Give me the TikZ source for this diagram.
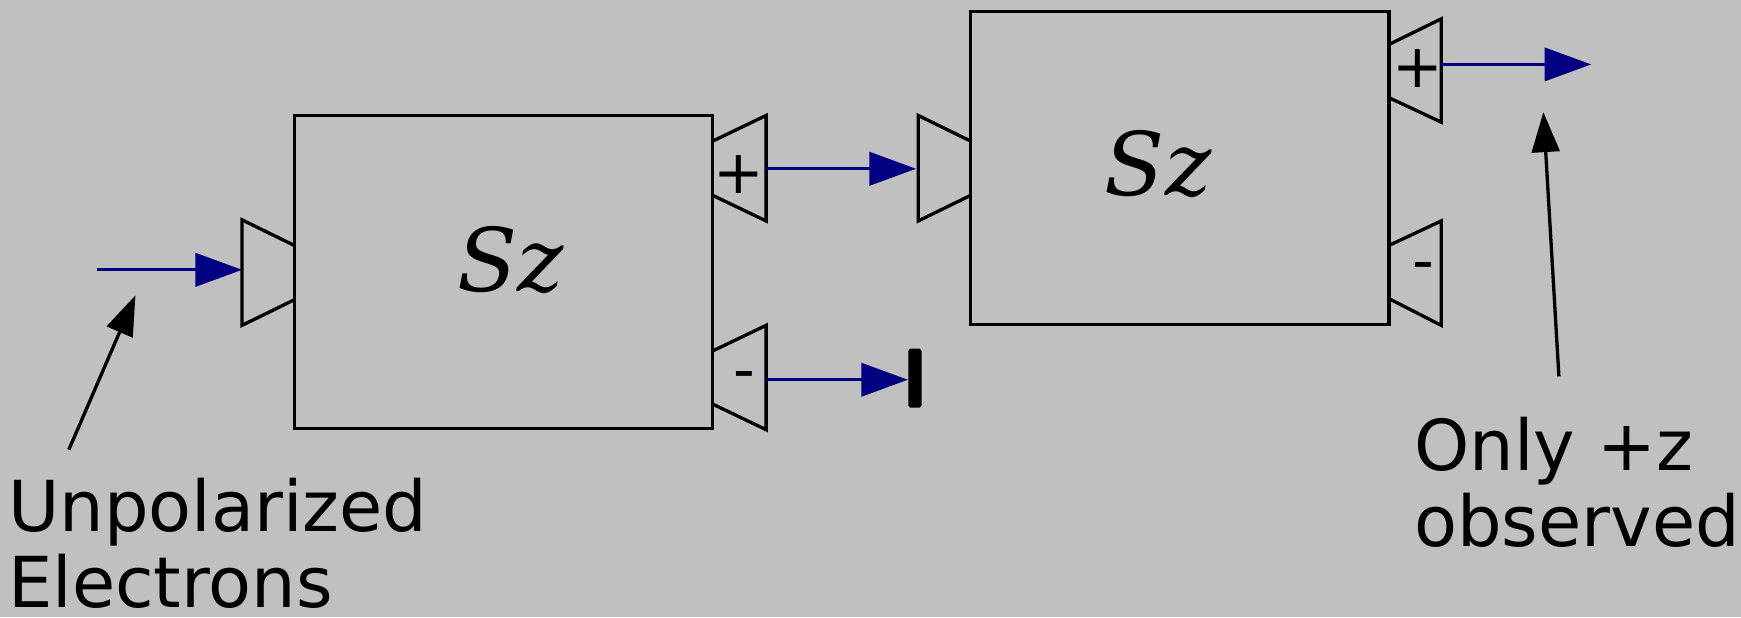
\documentclass[tikz,border=0pt]{standalone}
\usepackage{fontspec}
\setmainfont{DejaVu Sans}
\newfontfamily\serifit{DejaVu Serif}
\usetikzlibrary{arrows.meta, positioning}
\usepackage{xcolor}
\definecolor{silver}{RGB}{192,192,192}
\definecolor{navyblue}{RGB}{0,0,128}

\tikzset{
  magnet/.style={draw, line width=1.7pt, minimum width=7.54cm, minimum height=5.64cm, inner sep=0pt},
  port/.style={line width=1.7pt},
  beam/.style={navyblue, line width=1.6pt, -{Triangle[length=0.84cm, width=0.6cm]}},
  pointer/.style={black, line width=1.7pt, -{Triangle[length=0.72cm, width=0.5cm]}},
  sign/.style={font=\fontsize{31}{31}\selectfont, inner sep=0pt},
  opname/.style={font=\serifit\itshape\fontsize{45}{45}\selectfont, inner sep=0pt},
  note/.style={font=\fontsize{36}{39}\selectfont, align=left, inner sep=0pt, anchor=north west},
}

\begin{document}
\begin{tikzpicture}[x=0.02cm, y=-0.02cm]
  % background
  \fill[silver] (0,0) rectangle (1568,556);

  % Stern-Gerlach boxes
  \node[magnet] (sg1) at (453.5,245) {};
  \node[magnet] (sg2) at (1062.5,151.5) {};
  \node[opname] (sz1) at (460,234) {Sz};
  \node[opname] (sz2) at (1043,148) {Sz};

  % ports
  \draw[port] (265,221) -- (218,198) -- (218,293) -- (265,270);
  \draw[port] (642,127) -- (690,104) -- (690,199) -- (642,176);
  \draw[port] (642,316) -- (690,293) -- (690,387) -- (642,364);
  \draw[port] (874,127) -- (827,104) -- (827,199) -- (874,176);
  \draw[port] (1251,40) -- (1298,17) -- (1298,110) -- (1251,88);
  \draw[port] (1251,221) -- (1298,199) -- (1298,293) -- (1251,269);

  \node[sign] (plus1) at (665,157) {+};
  \node[sign] (minus1) at (670,343) {-};
  \node[sign] (plus2) at (1277,62) {+};
  \node[sign] (minus2) at (1282,245) {-};

  % beam points
  \coordinate (src) at (87,243);
  \coordinate (in1) at (218,243);
  \coordinate (up1) at (690,152);
  \coordinate (in2) at (825,152);
  \coordinate (down1) at (690,342);
  \coordinate (up2) at (1298,58);
  \coordinate (out) at (1433,58);
  \node[fill, rounded corners=1pt, minimum width=0.24cm, minimum height=1.06cm, inner sep=0pt] (block) at (824,340.5) {};

  % beams
  \draw[beam] (src) -- (in1);
  \draw[beam] (up1) -- (in2);
  \draw[beam] (down1) -- (down1 -| block.west);
  \draw[beam] (up2) -- (out);

  % notes
  \node[note] (unpol) at (7,430) {Unpolarized\\Electrons};
  \node[note] (onlyz) at (1273.5,375) {Only +z\\observed};
  \coordinate (tail1) at (62,405);
  \coordinate (tip1) at (122,266);
  \coordinate (tail2) at (1404,339);
  \coordinate (tip2) at (1390,101);
  \draw[pointer] (tail1) -- (tip1);
  \draw[pointer] (tail2) -- (tip2);
\end{tikzpicture}
\end{document}
